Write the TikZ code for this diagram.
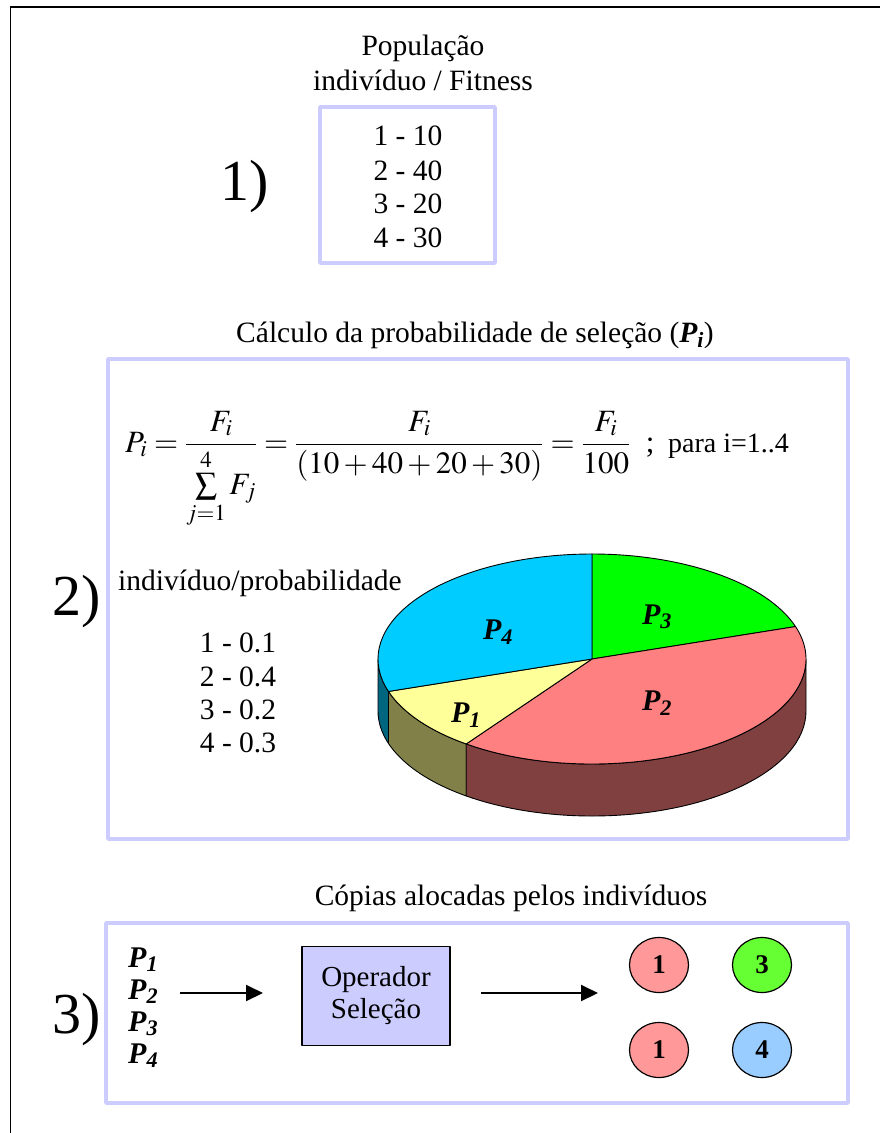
\documentclass[tikz,border=0pt]{standalone}
\usepackage{mathptmx}
\usepackage[no-math]{fontspec}
\setmainfont{Liberation Serif}
\usetikzlibrary{arrows.meta,positioning,shapes.geometric}
\definecolor{lav}{HTML}{CCCCFF}
\definecolor{pcyan}{HTML}{00CCFF}
\definecolor{pgreen}{HTML}{00FF00}
\definecolor{psalmon}{HTML}{FF8080}
\definecolor{pyellow}{HTML}{FFFF99}
\definecolor{sidecyan}{HTML}{006680}
\definecolor{sideyellow}{HTML}{808048}
\definecolor{sidesalmon}{HTML}{804040}
\definecolor{cpink}{HTML}{FF9999}
\definecolor{cgreen}{HTML}{66FF33}
\definecolor{cblue}{HTML}{99CCFF}
\begin{document}
\begin{tikzpicture}[x=1pt,y=-1pt,line join=round,
	frame/.style={draw=lav,line width=3.5pt},
	txt/.style={font=\fontsize{29.5}{35}\selectfont,anchor=base,inner sep=0pt},
	big/.style={font=\fontsize{58}{66}\selectfont,anchor=base west,inner sep=0pt},
	plab/.style={font=\fontsize{30}{34}\selectfont\bfseries\itshape,inner sep=0pt},
	slice/.style={draw=black,line width=0.9pt},
	arr/.style={line width=2pt,-{Triangle[length=17pt,width=16pt]}},
	dot/.style={ellipse,draw,line width=1.2pt,minimum width=59,minimum height=55,inner sep=0pt,font=\fontsize{27}{30}\selectfont\bfseries}]
	\useasboundingbox (0,0) rectangle (880,1133);
	% outer frame
	\draw[line width=1.2pt] (10.5,6) -- (10.5,1133);
	\draw[line width=2pt] (10,6.5) -- (880,6.5);
	% 1) population
	\node[txt] (poptitle) at (423,55) {População};
	\node[txt] (popsub) at (423,90) {indivíduo / Fitness};
	\draw[frame] (320,107) rectangle (495,263);
	\node[txt] (fit1) at (408,145) {1 - 10};
	\node[txt] (fit2) at (408,180) {2 - 40};
	\node[txt] (fit3) at (408,213) {3 - 20};
	\node[txt] (fit4) at (408,247) {4 - 30};
	\node[big] (lab1) at (220,200) {1)};
	% 2) probabilities
	\node[txt] (calctitle) at (475,342) {Cálculo da probabilidade de seleção (\textbf{\textit{P\textsubscript{i}}})};
	\draw[frame] (108,359) rectangle (848,839);
	\node[anchor=base west,inner sep=0pt,font=\fontsize{31}{38}\selectfont] (formula) at (125,452)
		{$\displaystyle P_i=\frac{F_i}{\sum\limits_{j=1}^{4}F_j}=\frac{F_i}{(10+40+20+30)}=\frac{F_i}{100}$\enspace;};
	\node[anchor=base west,inner sep=0pt,font=\fontsize{28}{32}\selectfont] (para) at (668,452) {para i=1..4};
	\node[big] (lab2) at (52,615) {2)};
	\node[txt,anchor=base west] (probtitle) at (118,590) {indivíduo/probabilidade};
	\node[txt] (prob1) at (238,652) {1 - 0.1};
	\node[txt] (prob2) at (238,686) {2 - 0.4};
	\node[txt] (prob3) at (238,719) {3 - 0.2};
	\node[txt] (prob4) at (238,752) {4 - 0.3};
	% pie
	\begin{scope}[shift={(592,659)},yscale=-1,x radius=214,y radius=105]
		\draw[slice,fill=sidecyan] (180:214 and 105) arc[start angle=180,end angle=198] -- ++(0,-52) arc[start angle=198,end angle=180] -- cycle;
		\draw[slice,fill=sideyellow] (198:214 and 105) arc[start angle=198,end angle=234] -- ++(0,-52) arc[start angle=234,end angle=198] -- cycle;
		\draw[slice,fill=sidesalmon] (234:214 and 105) arc[start angle=234,end angle=360] -- ++(0,-52) arc[start angle=360,end angle=234] -- cycle;
		\draw[slice,fill=pgreen] (0,0) -- (18:214 and 105) arc[start angle=18,end angle=90] -- cycle;
		\draw[slice,fill=psalmon] (0,0) -- (-126:214 and 105) arc[start angle=-126,end angle=18] -- cycle;
		\draw[slice,fill=pyellow] (0,0) -- (-162:214 and 105) arc[start angle=-162,end angle=-126] -- cycle;
		\draw[slice,fill=pcyan] (0,0) -- (90:214 and 105) arc[start angle=90,end angle=198] -- cycle;
	\end{scope}
	\node[plab] (pie4) at (498,632) {P\textsubscript{4}};
	\node[plab] (pie3) at (657,617) {P\textsubscript{3}};
	\node[plab] (pie2) at (657,703) {P\textsubscript{2}};
	\node[plab] (pie1) at (466,715) {P\textsubscript{1}};
	% 3) selection
	\node[txt] (copytitle) at (511,905) {Cópias alocadas pelos indivíduos};
	\draw[frame] (106,923) rectangle (848,1103);
	\node[big] (lab3) at (52,1033) {3)};
	\node[plab,anchor=base west] (in1) at (128,967) {P\textsubscript{1}};
	\node[plab,anchor=base west] (in2) at (128,999) {P\textsubscript{2}};
	\node[plab,anchor=base west] (in3) at (128,1031) {P\textsubscript{3}};
	\node[plab,anchor=base west] (in4) at (128,1063) {P\textsubscript{4}};
	\node[draw,fill=lav,line width=1.5pt,minimum width=148,minimum height=99,align=center,font=\fontsize{29}{32}\selectfont] (op) at (376,996) {Operador\\Seleção};
	\coordinate (a1s) at (180,993);
	\coordinate (a1e) at (263,993);
	\coordinate (a2s) at (481,993);
	\coordinate (a2e) at (598,993);
	\draw[arr] (a1s) -- (a1e);
	\draw[arr] (a2s) -- (a2e);
	\node[dot,fill=cpink] (c1) at (659,965) {1};
	\node[dot,fill=cgreen] (c3) at (762,965) {3};
	\node[dot,fill=cpink] (c2) at (659,1050) {1};
	\node[dot,fill=cblue] (c4) at (762,1050) {4};
\end{tikzpicture}
\end{document}
